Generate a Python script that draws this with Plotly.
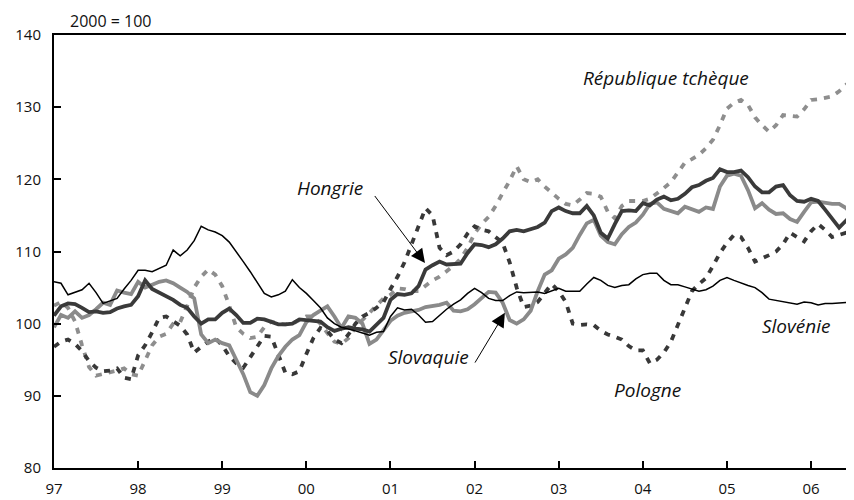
import plotly.graph_objects as go

# Monthly indices, Jan 1997 .. Jul 2006 (2000 = 100)
start_year = 1997
slovenie = [105.8, 105.6, 104.0, 104.4, 104.7, 105.6, 104.3, 102.8, 103.1, 103.5, 104.8, 106.0,
            107.4, 107.4, 107.2, 107.6, 108.1, 110.2, 109.4, 110.2, 111.5, 113.5, 113.0, 112.7,
            112.2, 111.3, 110.0, 108.6, 107.2, 105.6, 104.2, 103.7, 104.0, 104.5, 106.1, 105.0,
            104.2, 103.2, 102.2, 100.8, 100.0, 99.5, 99.3, 99.0, 98.7, 98.4, 98.8, 98.9,
            101.0, 102.2, 101.9, 102.0, 101.2, 100.2, 100.3, 101.2, 102.0, 102.7, 103.3, 104.2,
            104.9, 104.3, 103.5, 103.2, 103.2, 103.9, 104.4, 104.3, 104.4, 104.4, 104.2, 104.6,
            104.9, 104.5, 104.5, 104.5, 105.5, 106.4, 106.0, 105.3, 105.0, 105.3, 105.4, 106.2,
            106.8, 107.0, 107.0, 106.0, 105.4, 105.4, 105.1, 104.8, 104.5, 104.7, 105.2, 106.0,
            106.4, 106.0, 105.6, 105.3, 105.0, 104.3, 103.4, 103.2, 103.0, 102.8, 102.7, 103.0,
            102.9, 102.6, 102.8, 102.8, 102.9, 103.0, 103.0]
hongrie = [101.1, 102.4, 102.8, 102.7, 102.2, 101.6, 101.7, 101.5, 101.6, 102.1, 102.4, 102.6,
           103.8, 106.0, 104.8, 104.3, 103.8, 103.3, 102.6, 102.2, 101.0, 100.0, 100.6, 100.6,
           101.5, 102.1, 101.2, 100.1, 100.1, 100.7, 100.6, 100.3, 99.9, 99.9, 100.0, 100.6,
           100.5, 100.4, 100.3, 99.5, 99.0, 99.3, 99.5, 99.3, 99.2, 98.9, 99.8, 100.8,
           103.3, 104.1, 104.0, 104.2, 105.2, 107.5, 108.1, 108.6, 108.2, 108.3, 108.3, 109.8,
           111.0, 110.9, 110.6, 111.0, 111.8, 112.8, 113.0, 112.8, 113.1, 113.4, 114.0, 115.6,
           116.1, 115.6, 115.3, 115.3, 116.3, 115.0, 112.6, 111.8, 113.8, 115.6, 115.7, 115.6,
           116.7, 116.4, 117.2, 117.6, 117.1, 117.3, 118.0, 118.9, 119.2, 119.8, 120.2, 121.4,
           121.0, 121.0, 121.2, 120.3, 119.0, 118.2, 118.2, 119.0, 119.2, 117.8, 117.0, 116.9,
           117.3, 117.0, 115.8, 114.5, 113.3, 114.3, 112.8]
slovaquie = [99.5, 101.2, 100.8, 101.7, 100.8, 101.2, 102.0, 102.9, 102.6, 104.6, 104.3, 104.1,
             105.8, 105.0, 105.4, 105.8, 106.0, 105.6, 105.0, 104.4, 103.5, 98.5, 97.3, 97.8,
             97.3, 97.0, 95.0, 93.0, 90.5, 90.0, 91.5, 93.8, 95.5, 96.8, 97.8, 98.4,
             100.2, 101.2, 101.8, 102.4, 101.0, 99.4, 101.0, 100.8, 100.0, 97.2, 97.8, 99.0,
             100.4, 101.1, 101.5, 101.7, 101.9, 102.3, 102.4, 102.6, 102.9, 101.8, 101.7, 102.0,
             102.7, 103.5, 104.4, 104.3, 102.9, 100.5, 100.0, 100.6, 101.8, 104.5, 106.8, 107.4,
             109.0, 109.6, 110.5, 112.3, 113.9, 114.4, 112.2, 111.3, 111.0, 112.4, 113.4, 114.0,
             115.1, 116.6, 116.8, 115.9, 115.6, 115.3, 116.2, 115.9, 115.5, 116.1, 115.9, 119.0,
             120.5, 120.8, 120.5, 118.5, 116.0, 116.7, 115.8, 115.2, 115.3, 114.5, 114.1, 115.5,
             116.8, 116.9, 116.7, 116.6, 116.6, 116.0, 115.0]
pologne = [96.8, 97.5, 97.8, 97.2, 96.2, 94.8, 93.9, 93.4, 93.5, 93.8, 92.5, 92.3,
           95.6, 97.0, 98.8, 100.8, 101.0, 100.3, 99.7, 98.5, 96.0, 96.8, 97.5, 98.0,
           97.0, 95.5, 94.5, 93.9, 95.3, 96.8, 98.3, 98.2, 95.8, 93.2, 93.0, 93.4,
           95.8, 98.0, 99.4, 99.0, 97.8, 97.3, 98.5, 100.0, 101.0, 101.5, 102.2, 103.0,
           104.8, 106.5, 108.5, 111.0, 113.8, 116.0, 115.0, 110.5, 109.5, 110.0, 111.0, 112.5,
           113.5, 113.0, 112.8, 112.0, 111.2, 108.5, 105.0, 102.3, 102.5, 103.0, 104.2, 105.5,
           104.5, 103.0, 100.0, 99.8, 99.9, 99.8, 99.0, 98.5, 98.2, 97.8, 96.9, 96.3,
           96.3, 94.5, 95.0, 96.0, 97.5, 99.8, 102.0, 104.5, 105.5, 106.3, 108.0, 109.8,
           111.2, 112.3, 112.0, 110.5, 108.6, 109.0, 109.5, 110.0, 111.0, 112.6, 112.0, 111.4,
           112.8, 113.8, 113.0, 112.0, 112.3, 112.6, 111.5]
tcheque = [102.5, 103.0, 102.2, 100.3, 97.0, 94.0, 92.8, 93.0, 93.3, 93.5, 93.8, 93.0,
           92.8, 95.0, 97.0, 98.2, 98.6, 100.0, 100.2, 102.5, 105.0, 106.5, 107.5, 106.8,
           105.2, 102.5, 99.5, 98.6, 98.0, 98.2, 99.5, 100.3, 100.0, 99.9, 100.0, 100.5,
           101.0, 101.0, 100.0, 98.7, 97.5, 97.2, 98.0, 99.5, 100.5, 101.5, 102.5, 103.5,
           104.0, 104.9, 104.8, 104.5, 104.5, 105.2, 106.0, 106.5, 107.2, 108.0, 109.0, 110.5,
           112.5, 113.8, 114.8, 116.3, 118.1, 119.8, 121.8, 120.0, 119.6, 120.0, 119.0, 118.1,
           117.3, 116.6, 116.4, 117.2, 118.1, 118.0, 117.6, 115.5, 114.6, 116.3, 117.0, 117.0,
           117.0, 117.3, 118.0, 118.8, 119.6, 121.0, 122.3, 122.8, 123.4, 124.3, 125.5, 127.5,
           129.8, 130.6, 131.0, 130.3, 128.6, 127.5, 126.6, 127.5, 128.9, 128.8, 128.7, 129.7,
           131.0, 131.1, 131.3, 131.5, 132.2, 133.1, 133.0]

tick_years = [1997, 1998, 1999, 2000, 2001, 2002, 2003, 2004, 2005, 2006]
tick_text = ["97", "98", "99", "00", "01", "02", "03", "04", "05", "06"]
y_ticks = [80, 90, 100, 110, 120, 130, 140]

months = [start_year + i / 12 for i in range(len(slovenie))]

FONT = "'Open Sans', 'Noto Sans', sans-serif"
fig = go.Figure()

def add(vals, color, width, dash="solid"):
    fig.add_trace(go.Scatter(x=months, y=vals, mode="lines",
                             line=dict(color=color, width=width, dash=dash),
                             hoverinfo="skip", showlegend=False))

add(tcheque, "#8e8e8e", 3.8, "6px,7px")
add(pologne, "#383838", 3.8, "6px,7px")
add(slovaquie, "#8a8a8a", 3.8)
add(hongrie, "#3a3a3a", 3.8)
add(slovenie, "#000000", 1.5)

ann_font = dict(family=FONT, size=19, color="#111")
labels = [
    ("<i>République tchèque</i>", 2004.27, 134.0),
    ("<i>Hongrie</i>", 2000.28, 118.8),
    ("<i>Slovaquie</i>", 2001.45, 95.4),
    ("<i>Pologne</i>", 2004.06, 90.85),
    ("<i>Slovénie</i>", 2005.83, 99.7),
]
annotations = [dict(x=x, y=y, xref="x", yref="y", text=t, showarrow=False,
                    font=ann_font) for t, x, y in labels]
# arrows
annotations.append(dict(x=2001.41, y=108.4, ax=2000.80, ay=117.9, xref="x", yref="y",
                        axref="x", ayref="y", text="", showarrow=True, arrowhead=2,
                        arrowsize=2.8, arrowwidth=1, arrowcolor="#000"))
annotations.append(dict(x=2002.36, y=101.5, ax=1997 + (474 - 54) / 84.1, ay=94.4,
                        xref="x", yref="y", axref="x", ayref="y", text="",
                        showarrow=True, arrowhead=2, arrowsize=2.8, arrowwidth=1,
                        arrowcolor="#000"))
annotations.append(dict(x=0.0175, y=1.032, xref="paper", yref="paper", text="2000 = 100",
                        showarrow=False, xanchor="left", yanchor="middle",
                        font=dict(family=FONT, size=16, color="#111")))

# the page adds an 8px body margin, so the figure is sized to end at the window edge
fig.update_layout(
    width=846, height=492,
    margin=dict(l=46, r=0, t=27, b=32),
    paper_bgcolor="white", plot_bgcolor="white",
    font=dict(family=FONT, size=15, color="#111"),
    annotations=annotations,
    xaxis=dict(range=[1997, 2006.51], tickvals=tick_years, ticktext=tick_text,
               ticks="inside", ticklen=7, tickwidth=1.5, tickcolor="#000",
               showline=True, linecolor="#000", linewidth=2, mirror=True,
               showgrid=False, zeroline=False, ticklabelstandoff=6,
               tickfont=dict(family=FONT, size=15)),
    yaxis=dict(range=[80, 140], tickvals=y_ticks,
               ticks="inside", ticklen=7, tickwidth=1.5, tickcolor="#000",
               showline=True, linecolor="#000", linewidth=2,
               showgrid=False, zeroline=False, ticklabelstandoff=8,
               tickfont=dict(family=FONT, size=15)),
)

fig.write_html("out.html")
